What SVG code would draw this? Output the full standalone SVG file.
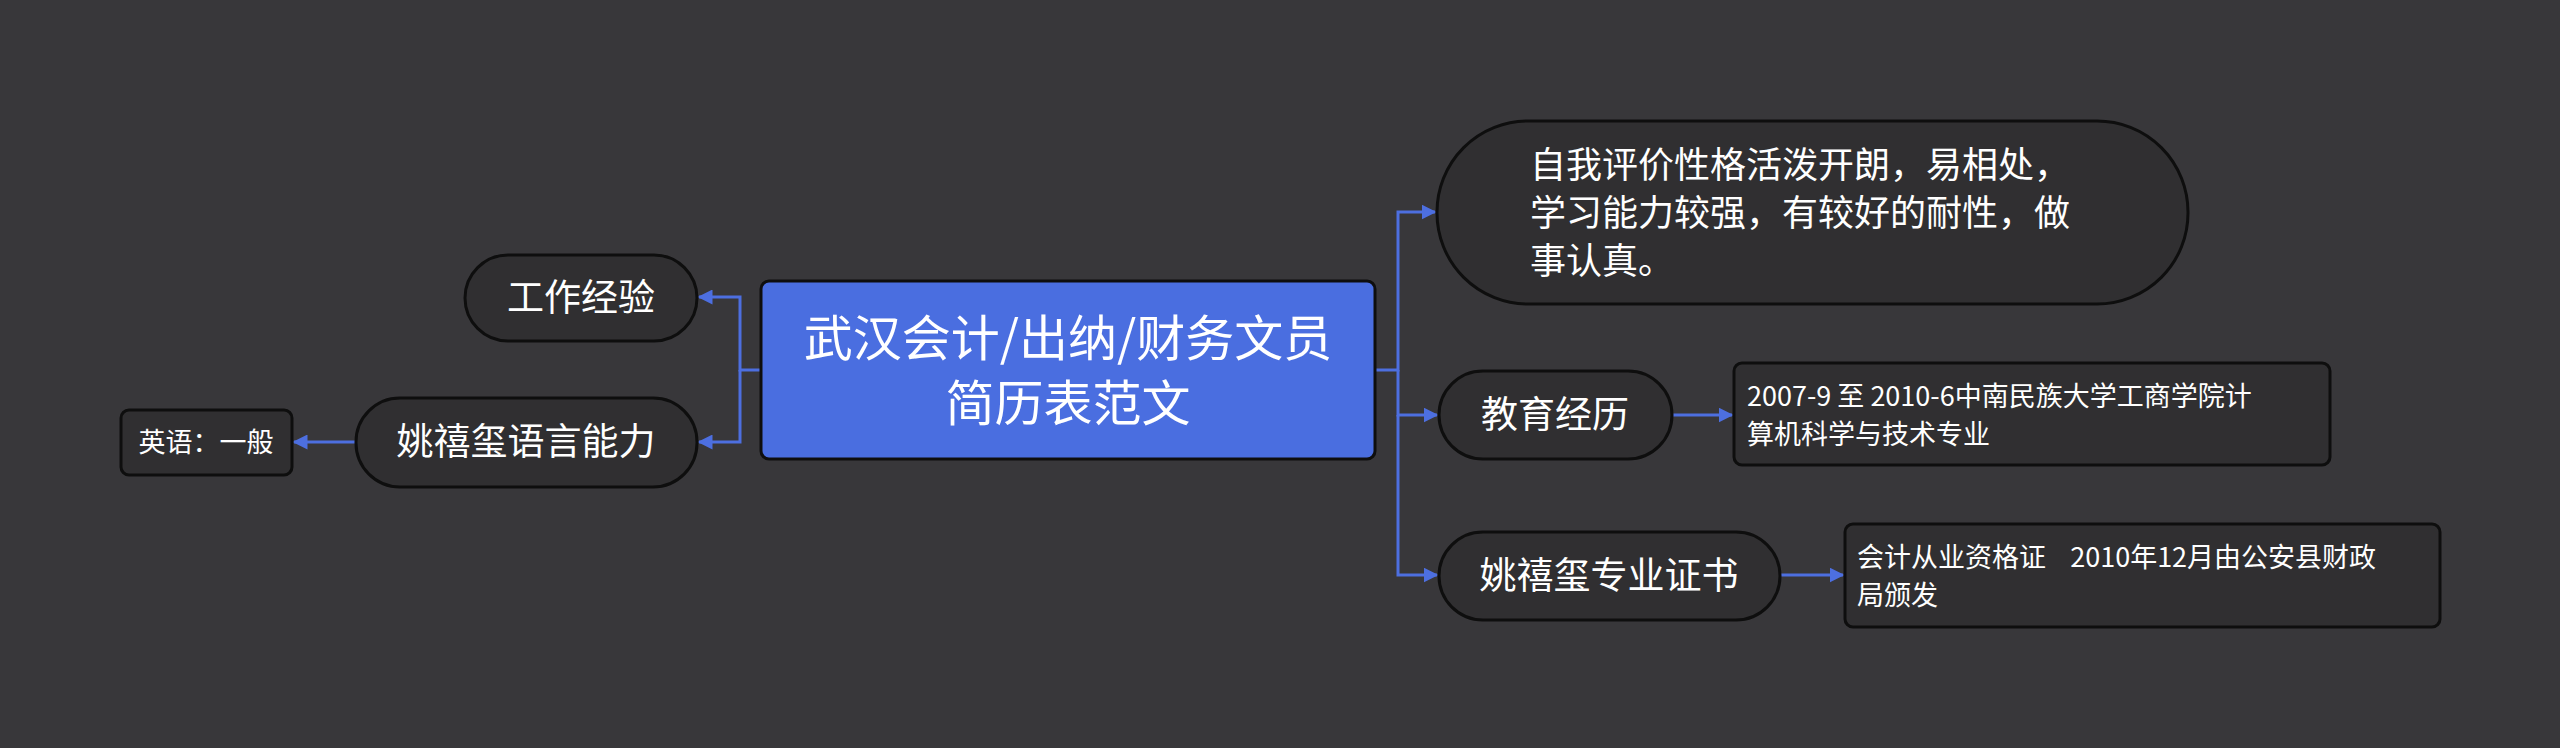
<svg xmlns="http://www.w3.org/2000/svg" width="2560" height="748" viewBox="0 0 2560 748">
<defs>
<style>
.n{fill:#302f31;stroke:#0e0e0e;stroke-width:3}
.t{font-family:"Noto Sans CJK SC","Noto Sans",sans-serif;fill:#fff}
.c{fill:none;stroke:#4d6fe0;stroke-width:3}
</style>
<marker id="a" viewBox="0 0 10 10" refX="9" refY="5" markerWidth="5" markerHeight="5" orient="auto"><path d="M0,0L10,5L0,10z" fill="#4d6fe0"/></marker>
</defs>
<rect width="2560" height="748" fill="#38373a"/>
<g id="connectors">
<path class="c" d="M761,370H740V297H699" marker-end="url(#a)"/>
<path class="c" d="M740,370V442H699" marker-end="url(#a)"/>
<path class="c" d="M356,442H294" marker-end="url(#a)"/>
<path class="c" d="M1375,370H1398V212H1435" marker-end="url(#a)"/>
<path class="c" d="M1398,370V415H1437" marker-end="url(#a)"/>
<path class="c" d="M1398,415V575H1437" marker-end="url(#a)"/>
<path class="c" d="M1672,415H1732" marker-end="url(#a)"/>
<path class="c" d="M1780,575H1843" marker-end="url(#a)"/>
</g>
<g id="root"><rect x="761" y="281" width="614" height="178" rx="8" fill="#4a6ee0" stroke="#0e0e0e" stroke-width="3"/>
<text class="t" font-size="49" text-anchor="middle" x="1068" y="356">武汉会计/出纳/财务文员</text>
<text class="t" font-size="49" text-anchor="middle" x="1068" y="421">简历表范文</text></g>
<g id="work"><rect class="n" x="465" y="255" width="232" height="86" rx="43"/>
<text class="t" font-size="37" text-anchor="middle" x="581" y="311">工作经验</text></g>
<g id="lang"><rect class="n" x="356" y="398" width="341" height="89" rx="44"/>
<text class="t" font-size="37" text-anchor="middle" x="526" y="455">姚禧玺语言能力</text></g>
<g id="eng"><rect class="n" x="121" y="410" width="171" height="65" rx="8"/>
<text class="t" font-size="27" text-anchor="middle" x="206" y="452">英语：一般</text></g>
<g id="self"><rect class="n" x="1437" y="121" width="751" height="183" rx="91"/>
<text class="t" font-size="36"><tspan x="1530" y="178">自我评价性格活泼开朗，易相处，</tspan><tspan x="1530" y="226">学习能力较强，有较好的耐性，做</tspan><tspan x="1530" y="274">事认真。</tspan></text></g>
<g id="edu"><rect class="n" x="1439" y="371" width="233" height="88" rx="44"/>
<text class="t" font-size="37" text-anchor="middle" x="1555" y="428">教育经历</text></g>
<g id="edu1"><rect class="n" x="1734" y="363" width="596" height="102" rx="8"/>
<text class="t" font-size="27"><tspan x="1747" y="406">2007-9 至 2010-6中南民族大学工商学院计</tspan><tspan x="1747" y="444">算机科学与技术专业</tspan></text></g>
<g id="cert"><rect class="n" x="1439" y="532" width="341" height="88" rx="44"/>
<text class="t" font-size="37" text-anchor="middle" x="1609" y="589">姚禧玺专业证书</text></g>
<g id="cert1"><rect class="n" x="1845" y="524" width="595" height="103" rx="8"/>
<text class="t" font-size="27"><tspan x="1857" y="567" xml:space="preserve">会计从业资格证    2010年12月由公安县财政</tspan><tspan x="1857" y="605">局颁发</tspan></text></g>
</svg>
